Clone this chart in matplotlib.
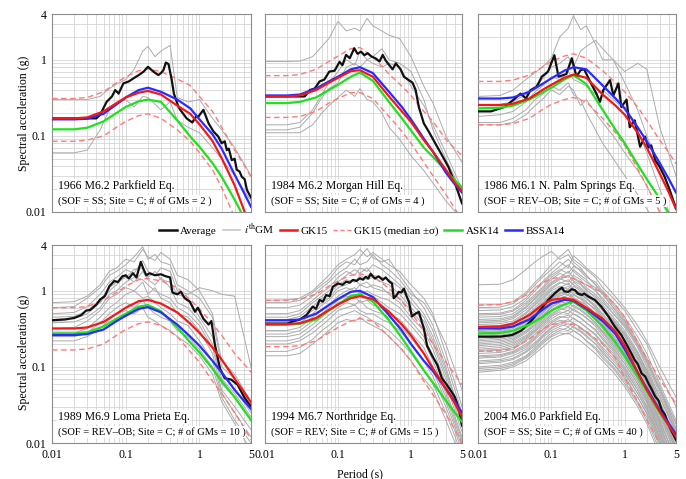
import matplotlib
matplotlib.use('Agg')
import matplotlib.pyplot as plt
from matplotlib.lines import Line2D

plt.rcParams['font.family'] = ['Liberation Serif', 'DejaVu Serif']
plt.rcParams['mathtext.fontset'] = 'stix'

# ---------------- data ----------------
T_MODEL = [0.01, 0.02, 0.03, 0.05, 0.075, 0.1, 0.15, 0.2, 0.3, 0.5, 0.75, 1, 1.5, 2, 3, 4, 5]
T_GM = [0.01, 0.02, 0.03, 0.045, 0.06, 0.075, 0.1, 0.13, 0.17, 0.2, 0.25, 0.3, 0.4, 0.5, 0.7, 1, 1.5, 2, 3, 5]

# Panel 1: 1966 Parkfield
p1_gk15 = [0.17, 0.17, 0.175, 0.21, 0.27, 0.32, 0.37, 0.39, 0.35, 0.25, 0.195, 0.142, 0.086, 0.051, 0.0224, 0.0107, 0.006]
p1_gk15_hi = [0.31, 0.31, 0.32, 0.38, 0.5, 0.6, 0.72, 0.76, 0.7, 0.56, 0.46, 0.33, 0.21, 0.13, 0.065, 0.042, 0.029]
p1_gk15_lo = [0.085, 0.085, 0.088, 0.1, 0.13, 0.155, 0.185, 0.195, 0.17, 0.12, 0.085, 0.06, 0.036, 0.021, 0.0085, 0.0045, 0.0028]
p1_ask14 = [0.122, 0.122, 0.128, 0.155, 0.2, 0.24, 0.285, 0.3, 0.28, 0.16, 0.098, 0.072, 0.044, 0.029, 0.0145, 0.0085, 0.0055]
p1_bssa14 = [0.165, 0.165, 0.168, 0.195, 0.26, 0.32, 0.4, 0.43, 0.38, 0.3, 0.23, 0.165, 0.105, 0.068, 0.031, 0.018, 0.0117]
p1_avg_T = [0.01, 0.04, 0.045, 0.055, 0.065, 0.072, 0.08, 0.093, 0.11, 0.127, 0.15, 0.175, 0.2, 0.237, 0.277, 0.3,
            0.324, 0.35, 0.38, 0.42, 0.45, 0.52, 0.55, 0.67, 0.8, 0.9, 0.97, 1.13, 1.33, 1.55, 1.8, 2.0, 2.2, 2.35,
            2.5, 2.74, 3.0, 3.2, 3.5, 3.75, 4.1, 4.4, 5.0]
p1_avg = [0.17, 0.17, 0.19, 0.28, 0.33, 0.40, 0.36, 0.49, 0.52, 0.57, 0.63, 0.70, 0.81, 0.70, 0.63, 0.67,
          0.73, 0.92, 0.88, 0.55, 0.36, 0.24, 0.22, 0.17, 0.15, 0.18, 0.18, 0.22, 0.146, 0.114, 0.098, 0.08, 0.085, 0.065,
          0.068, 0.048, 0.05, 0.036, 0.034, 0.029, 0.027, 0.0195, 0.0155]
p1_gms = [
    [0.30, 0.30, 0.30, 0.33, 0.42, 0.48, 0.55, 0.75, 1.3, 1.5, 1.1, 1.3, 1.55, 0.32, 0.28, 0.3, 0.17, 0.12, 0.07, 0.03],
    [0.06, 0.06, 0.065, 0.12, 0.22, 0.26, 0.3, 0.24, 0.33, 0.32, 0.26, 0.22, 0.28, 0.16, 0.13, 0.11, 0.07, 0.05, 0.03, 0.014],
]

# Panel 2: 1984 Morgan Hill
p2_gk15 = [0.33, 0.33, 0.34, 0.4, 0.5, 0.58, 0.71, 0.73, 0.6, 0.33, 0.21, 0.153, 0.088, 0.062, 0.036, 0.024, 0.019]
p2_gk15_hi = [0.62, 0.62, 0.64, 0.75, 0.95, 1.12, 1.4, 1.45, 1.1, 0.65, 0.45, 0.34, 0.21, 0.155, 0.09, 0.068, 0.055]
p2_gk15_lo = [0.175, 0.175, 0.18, 0.21, 0.27, 0.31, 0.37, 0.37, 0.31, 0.18, 0.115, 0.08, 0.045, 0.03, 0.017, 0.011, 0.008]
p2_ask14 = [0.27, 0.27, 0.28, 0.32, 0.4, 0.47, 0.6, 0.68, 0.53, 0.28, 0.17, 0.118, 0.07, 0.053, 0.035, 0.026, 0.021]
p2_bssa14 = [0.34, 0.34, 0.35, 0.42, 0.52, 0.6, 0.75, 0.8, 0.67, 0.38, 0.24, 0.165, 0.092, 0.062, 0.033, 0.023, 0.018]
p2_avg_T = [0.01, 0.035, 0.041, 0.048, 0.056, 0.065, 0.076, 0.09, 0.105, 0.115, 0.129, 0.145, 0.167, 0.185, 0.207,
            0.23, 0.254, 0.29, 0.33, 0.37, 0.41, 0.45, 0.5, 0.56, 0.62, 0.72, 0.8, 0.935, 1.05, 1.16, 1.28, 1.5,
            1.75, 2.15, 2.65, 3.26, 4.0, 5.0]
p2_avg = [0.33, 0.33, 0.40, 0.42, 0.52, 0.55, 0.70, 0.72, 0.94, 0.85, 1.16, 1.05, 1.42, 1.2, 1.28,
          1.15, 1.22, 1.1, 1.04, 0.95, 1.16, 0.98, 0.86, 0.75, 0.9, 0.75, 0.6, 0.54, 0.5, 0.40, 0.24, 0.146,
          0.114, 0.08, 0.056, 0.039, 0.024, 0.013]
p2_gms = [
    [0.95, 0.95, 0.96, 1.1, 1.5, 1.9, 3.2, 2.4, 2.6, 2.4, 3.5, 2.8, 2.4, 2.1, 1.9, 1.1, 0.45, 0.27, 0.1, 0.045],
    [0.14, 0.14, 0.15, 0.22, 0.35, 0.5, 0.7, 1.0, 0.85, 1.3, 1.0, 1.1, 1.4, 1.0, 0.9, 0.7, 0.3, 0.12, 0.05, 0.018],
    [0.11, 0.11, 0.11, 0.14, 0.2, 0.25, 0.32, 0.4, 0.33, 0.42, 0.3, 0.28, 0.2, 0.13, 0.09, 0.055, 0.035, 0.024, 0.014, 0.008],
    [0.12, 0.12, 0.13, 0.2, 0.32, 0.42, 0.5, 0.8, 0.9, 0.8, 1.0, 0.9, 0.8, 0.9, 0.8, 0.45, 0.25, 0.14, 0.06, 0.02],
]

# Panel 3: 1986 N. Palm Springs
p3_gk15 = [0.255, 0.255, 0.265, 0.31, 0.4, 0.47, 0.58, 0.64, 0.58, 0.35, 0.25, 0.19, 0.11, 0.07, 0.032, 0.018, 0.011]
p3_gk15_hi = [0.52, 0.52, 0.54, 0.63, 0.8, 0.95, 1.12, 1.2, 1.05, 0.72, 0.5, 0.38, 0.24, 0.16, 0.088, 0.06, 0.043]
p3_gk15_lo = [0.14, 0.14, 0.145, 0.17, 0.22, 0.26, 0.3, 0.32, 0.28, 0.17, 0.11, 0.075, 0.037, 0.022, 0.01, 0.0055, 0.0035]
p3_ask14 = [0.23, 0.235, 0.25, 0.3, 0.37, 0.43, 0.55, 0.63, 0.48, 0.22, 0.12, 0.08, 0.042, 0.027, 0.015, 0.0095, 0.0065]
p3_bssa14 = [0.31, 0.31, 0.32, 0.38, 0.48, 0.57, 0.72, 0.8, 0.75, 0.46, 0.31, 0.23, 0.13, 0.085, 0.044, 0.027, 0.018]
p3_avg_T = [0.01, 0.015, 0.023, 0.032, 0.038, 0.045, 0.052, 0.063, 0.074, 0.09, 0.11, 0.125, 0.16, 0.19, 0.22,
            0.25, 0.28, 0.33, 0.41, 0.46, 0.51, 0.63, 0.7, 0.82, 0.9, 1.06, 1.17, 1.37, 1.62, 1.89, 2.1, 2.3, 2.6,
            3.0, 3.5, 4.1, 5.0]
p3_avg = [0.21, 0.21, 0.24, 0.31, 0.36, 0.31, 0.4, 0.44, 0.6, 0.7, 1.15, 0.6, 0.65, 1.05, 0.6,
          0.73, 0.75, 0.54, 0.36, 0.28, 0.4, 0.54, 0.34, 0.49, 0.24, 0.30, 0.13, 0.16, 0.072, 0.098, 0.07, 0.075, 0.048,
          0.039, 0.029, 0.0195, 0.011]
p3_gms = [
    [0.33, 0.34, 0.4, 0.55, 0.68, 0.8, 1.05, 2.0, 2.6, 3.8, 2.5, 2.8, 1.6, 1.0, 1.0, 0.5, 0.22, 0.1, 0.04, 0.012],
    [0.25, 0.26, 0.28, 0.35, 0.45, 0.55, 0.8, 0.9, 1.1, 0.8, 1.3, 1.5, 1.8, 1.4, 1.0, 0.7, 0.9, 0.75, 0.13, 0.03],
    [0.18, 0.19, 0.21, 0.28, 0.38, 0.45, 0.6, 0.55, 0.7, 0.55, 0.5, 0.45, 0.35, 0.4, 0.3, 0.22, 0.12, 0.06, 0.02, 0.006],
    [0.15, 0.15, 0.17, 0.22, 0.3, 0.35, 0.45, 0.4, 0.5, 0.35, 0.3, 0.2, 0.12, 0.08, 0.05, 0.03, 0.017, 0.011, 0.006, 0.003],
    [0.14, 0.14, 0.15, 0.19, 0.25, 0.3, 0.4, 0.35, 0.45, 0.4, 0.25, 0.3, 0.2, 0.15, 0.1, 0.06, 0.035, 0.022, 0.01, 0.004],
]

# Panel 4: 1989 Loma Prieta
p4_gk15 = [0.32, 0.32, 0.33, 0.39, 0.5, 0.6, 0.73, 0.76, 0.68, 0.52, 0.37, 0.28, 0.18, 0.125, 0.07, 0.047, 0.034]
p4_gk15_hi = [0.6, 0.6, 0.62, 0.75, 0.95, 1.15, 1.4, 1.45, 1.35, 1.1, 0.76, 0.58, 0.37, 0.26, 0.15, 0.11, 0.085]
p4_gk15_lo = [0.167, 0.167, 0.172, 0.2, 0.26, 0.31, 0.37, 0.39, 0.35, 0.25, 0.158, 0.115, 0.065, 0.045, 0.025, 0.016, 0.011]
p4_ask14 = [0.275, 0.275, 0.285, 0.34, 0.43, 0.5, 0.62, 0.65, 0.54, 0.33, 0.21, 0.155, 0.095, 0.065, 0.04, 0.027, 0.02]
p4_bssa14 = [0.262, 0.262, 0.27, 0.31, 0.4, 0.47, 0.58, 0.61, 0.52, 0.36, 0.25, 0.19, 0.12, 0.085, 0.05, 0.036, 0.028]
p4_avg_T = [0.01, 0.015, 0.02, 0.025, 0.029, 0.033, 0.04, 0.045, 0.052, 0.06, 0.07, 0.078, 0.09, 0.1, 0.11,
            0.125, 0.14, 0.16, 0.175, 0.19, 0.21, 0.25, 0.3, 0.35, 0.4, 0.43, 0.5, 0.56, 0.63, 0.74, 0.87, 0.95,
            1.13, 1.33, 1.45, 1.63, 1.9, 2.2, 2.7, 3.3, 4.1, 5.0]
p4_avg = [0.41, 0.42, 0.44, 0.48, 0.55, 0.56, 0.66, 0.77, 0.85, 1.15, 1.35, 1.3, 1.55, 1.6, 1.45,
          1.7, 1.5, 2.4, 1.9, 1.6, 1.7, 1.6, 1.65, 1.55, 1.5, 0.95, 0.9, 0.97, 0.8, 0.72, 0.53, 0.6,
          0.43, 0.36, 0.4, 0.19, 0.095, 0.071, 0.068, 0.058, 0.039, 0.03]
p4_gms = [
    [0.70, 0.72, 0.85, 1.2, 1.8, 2.0, 2.6, 2.4, 3.5, 2.8, 2.5, 3.2, 2.6, 1.6, 1.4, 1.0, 0.5, 0.12, 0.08, 0.035],
    [0.60, 0.62, 0.8, 1.1, 1.6, 1.8, 2.2, 2.8, 3.8, 2.6, 3.0, 2.4, 2.2, 1.2, 1.0, 0.8, 0.45, 0.1, 0.07, 0.03],
    [0.50, 0.52, 0.62, 0.9, 1.3, 1.5, 1.9, 1.7, 2.5, 1.8, 1.6, 2.0, 1.8, 1.0, 0.9, 1.1, 1.0, 0.9, 0.85, 0.1],
    [0.45, 0.46, 0.55, 0.75, 1.1, 1.3, 1.5, 1.9, 2.0, 1.5, 1.8, 1.4, 1.3, 0.9, 0.8, 0.45, 0.25, 0.08, 0.05, 0.025],
    [0.42, 0.43, 0.5, 0.7, 1.0, 1.2, 1.6, 1.3, 1.8, 1.4, 1.2, 1.5, 1.1, 0.7, 0.6, 0.4, 0.2, 0.07, 0.045, 0.022],
    [0.38, 0.39, 0.45, 0.6, 0.9, 1.0, 1.3, 1.5, 1.4, 1.2, 1.0, 0.9, 0.8, 0.6, 0.5, 0.35, 0.18, 0.06, 0.04, 0.02],
    [0.32, 0.33, 0.4, 0.55, 0.8, 0.9, 1.1, 1.0, 1.3, 0.9, 1.1, 0.8, 0.7, 0.5, 0.45, 0.3, 0.15, 0.05, 0.03, 0.015],
    [0.28, 0.28, 0.32, 0.45, 0.6, 0.7, 0.9, 1.0, 0.8, 0.85, 0.7, 0.6, 0.5, 0.4, 0.35, 0.22, 0.12, 0.045, 0.025, 0.012],
    [0.25, 0.25, 0.28, 0.38, 0.5, 0.6, 0.7, 0.6, 0.75, 0.6, 0.5, 0.45, 0.4, 0.3, 0.25, 0.17, 0.1, 0.04, 0.02, 0.01],
    [0.22, 0.22, 0.25, 0.32, 0.42, 0.5, 0.55, 0.5, 0.6, 0.45, 0.4, 0.35, 0.3, 0.25, 0.2, 0.14, 0.08, 0.035, 0.018, 0.008],
]

# Panel 5: 1994 Northridge
p5_gk15 = [0.365, 0.365, 0.375, 0.44, 0.56, 0.66, 0.8, 0.85, 0.78, 0.53, 0.36, 0.26, 0.15, 0.095, 0.052, 0.033, 0.022]
p5_gk15_hi = [0.75, 0.75, 0.77, 0.9, 1.15, 1.35, 1.6, 1.67, 1.55, 1.08, 0.72, 0.52, 0.3, 0.2, 0.115, 0.08, 0.058]
p5_gk15_lo = [0.185, 0.185, 0.19, 0.22, 0.28, 0.33, 0.4, 0.43, 0.4, 0.25, 0.17, 0.12, 0.065, 0.043, 0.024, 0.015, 0.01]
p5_ask14 = [0.36, 0.36, 0.37, 0.42, 0.55, 0.66, 0.86, 0.9, 0.72, 0.41, 0.24, 0.16, 0.09, 0.062, 0.036, 0.025, 0.019]
p5_bssa14 = [0.41, 0.41, 0.42, 0.5, 0.65, 0.78, 0.97, 1.0, 0.83, 0.48, 0.3, 0.2, 0.12, 0.088, 0.052, 0.035, 0.025]
p5_avg_T = [0.01, 0.02, 0.025, 0.03, 0.037, 0.045, 0.05, 0.056, 0.062, 0.069, 0.077, 0.085, 0.1, 0.115, 0.13,
            0.145, 0.16, 0.18, 0.2, 0.22, 0.24, 0.26, 0.28, 0.32, 0.36, 0.41, 0.45, 0.5, 0.55, 0.58, 0.62, 0.68,
            0.74, 0.8, 0.87, 0.935, 1.03, 1.15, 1.28, 1.5, 1.66, 1.95, 2.3, 2.65, 3.1, 3.6, 4.0, 4.5, 5.0]
p5_avg = [0.37, 0.37, 0.40, 0.42, 0.48, 0.62, 0.58, 0.76, 0.72, 0.88, 0.85, 1.13, 1.25, 1.2, 1.32,
          1.28, 1.39, 1.35, 1.46, 1.4, 1.53, 1.45, 1.67, 1.45, 1.55, 1.39, 1.5, 1.33, 1.25, 0.80, 0.85, 0.97,
          0.95, 1.07, 0.85, 0.72, 0.46, 0.5, 0.53, 0.32, 0.19, 0.14, 0.106, 0.071, 0.058, 0.047, 0.04, 0.029, 0.017]
p5_gms = [
    [0.75, 0.76, 0.8, 1.0, 1.3, 1.6, 2.2, 2.6, 3.0, 3.5, 2.8, 3.2, 2.6, 2.2, 1.8, 1.2, 0.8, 0.5, 0.15, 0.03],
    [0.70, 0.70, 0.75, 0.95, 1.2, 1.4, 2.0, 2.4, 2.2, 2.8, 3.6, 2.7, 2.4, 2.6, 1.6, 1.0, 0.6, 0.35, 0.12, 0.025],
    [0.60, 0.60, 0.65, 0.85, 1.1, 1.3, 1.7, 2.0, 2.6, 2.2, 2.4, 3.0, 2.2, 1.9, 1.4, 0.9, 0.7, 0.45, 0.2, 0.05],
    [0.50, 0.50, 0.55, 0.75, 0.95, 1.1, 1.5, 1.8, 1.6, 2.0, 1.8, 2.2, 1.9, 1.6, 1.2, 0.8, 0.5, 0.3, 0.1, 0.02],
    [0.45, 0.45, 0.5, 0.7, 0.85, 1.0, 1.3, 1.6, 1.9, 1.7, 2.0, 1.6, 1.5, 1.4, 1.1, 0.7, 0.45, 0.25, 0.09, 0.02],
    [0.42, 0.42, 0.46, 0.62, 0.8, 0.9, 1.2, 1.4, 1.3, 1.6, 1.4, 1.5, 1.3, 1.2, 0.9, 0.6, 0.4, 0.22, 0.08, 0.018],
    [0.38, 0.38, 0.42, 0.55, 0.7, 0.8, 1.1, 1.2, 1.4, 1.2, 1.3, 1.1, 1.0, 0.95, 0.8, 0.55, 0.35, 0.2, 0.07, 0.016],
    [0.35, 0.35, 0.38, 0.5, 0.65, 0.75, 1.0, 1.1, 1.0, 1.2, 1.1, 1.2, 1.1, 0.9, 0.7, 0.45, 0.3, 0.17, 0.06, 0.014],
    [0.30, 0.30, 0.33, 0.45, 0.55, 0.65, 0.85, 1.0, 1.1, 0.9, 1.0, 0.9, 0.8, 0.75, 0.6, 0.4, 0.25, 0.14, 0.05, 0.012],
    [0.27, 0.27, 0.3, 0.4, 0.5, 0.6, 0.75, 0.85, 0.8, 0.95, 0.8, 0.85, 0.7, 0.6, 0.5, 0.35, 0.22, 0.12, 0.045, 0.011],
    [0.25, 0.25, 0.27, 0.36, 0.45, 0.55, 0.7, 0.75, 0.85, 0.7, 0.75, 0.65, 0.6, 0.5, 0.42, 0.28, 0.18, 0.1, 0.04, 0.01],
    [0.22, 0.22, 0.24, 0.32, 0.4, 0.48, 0.6, 0.7, 0.65, 0.75, 0.6, 0.55, 0.5, 0.45, 0.35, 0.24, 0.15, 0.09, 0.035, 0.009],
    [0.20, 0.20, 0.22, 0.28, 0.35, 0.42, 0.55, 0.6, 0.65, 0.55, 0.5, 0.5, 0.42, 0.38, 0.3, 0.2, 0.12, 0.075, 0.03, 0.008],
    [0.16, 0.16, 0.18, 0.23, 0.3, 0.35, 0.45, 0.5, 0.55, 0.5, 0.45, 0.4, 0.35, 0.3, 0.22, 0.15, 0.09, 0.06, 0.025, 0.007],
    [0.14, 0.14, 0.15, 0.2, 0.25, 0.3, 0.38, 0.42, 0.4, 0.45, 0.38, 0.35, 0.3, 0.25, 0.18, 0.12, 0.07, 0.05, 0.02, 0.006],
]

# Panel 6: 2004 Parkfield
p6_gk15 = [0.335, 0.34, 0.37, 0.48, 0.65, 0.76, 0.8, 0.76, 0.6, 0.43, 0.29, 0.19, 0.085, 0.05, 0.026, 0.017, 0.012]
p6_gk15_hi = [0.65, 0.66, 0.72, 0.92, 1.25, 1.45, 1.52, 1.45, 1.2, 0.95, 0.65, 0.45, 0.21, 0.13, 0.07, 0.045, 0.033]
p6_gk15_lo = [0.16, 0.162, 0.175, 0.23, 0.31, 0.36, 0.38, 0.36, 0.29, 0.2, 0.13, 0.072, 0.035, 0.02, 0.01, 0.0065, 0.0045]
p6_ask14 = [0.275, 0.28, 0.3, 0.36, 0.45, 0.55, 0.66, 0.72, 0.55, 0.34, 0.21, 0.14, 0.075, 0.048, 0.025, 0.017, 0.013]
p6_bssa14 = [0.32, 0.32, 0.34, 0.42, 0.56, 0.68, 0.76, 0.74, 0.58, 0.4, 0.27, 0.17, 0.085, 0.052, 0.027, 0.018, 0.013]
p6_avg_T = [0.01, 0.02, 0.029, 0.039, 0.054, 0.074, 0.091, 0.112, 0.13, 0.14, 0.15, 0.17, 0.19, 0.21, 0.23,
            0.26, 0.28, 0.32, 0.39, 0.48, 0.6, 0.73, 0.9, 1.1, 1.37, 1.5, 1.7, 1.9, 2.1, 2.3, 2.6, 2.9, 3.2,
            3.5, 3.9, 4.4, 5.0]
p6_avg = [0.25, 0.25, 0.262, 0.30, 0.41, 0.59, 0.76, 0.93, 1.05, 1.1, 0.98, 0.97, 1.05, 1.02, 0.92,
          0.88, 0.92, 0.84, 0.76, 0.62, 0.46, 0.34, 0.262, 0.185, 0.123, 0.11, 0.082, 0.075, 0.061, 0.052, 0.041, 0.036, 0.027,
          0.024, 0.018, 0.014, 0.011]
p6_gms = [
    [1.2, 1.22, 1.4, 1.9, 2.4, 2.8, 3.3, 2.6, 3.0, 2.4, 2.0, 1.6, 1.2, 0.9, 0.6, 0.38, 0.2, 0.12, 0.05, 0.015],
    [0.65, 0.66, 0.72, 0.95, 1.3, 1.6, 2.2, 2.8, 3.5, 2.6, 2.2, 1.9, 1.5, 1.1, 0.8, 0.55, 0.3, 0.2, 0.08, 0.03],
    [0.60, 0.61, 0.68, 0.9, 1.2, 1.5, 1.9, 2.4, 2.0, 2.9, 2.4, 2.0, 1.6, 1.3, 0.9, 0.6, 0.35, 0.22, 0.1, 0.04],
    [0.55, 0.56, 0.62, 0.8, 1.1, 1.3, 1.7, 2.1, 2.6, 2.2, 1.8, 1.5, 1.3, 1.0, 0.7, 0.45, 0.25, 0.15, 0.06, 0.02],
    [0.50, 0.51, 0.56, 0.75, 1.0, 1.25, 1.6, 1.9, 1.7, 2.1, 1.9, 1.6, 1.2, 0.95, 0.65, 0.42, 0.22, 0.13, 0.055, 0.018],
    [0.48, 0.49, 0.54, 0.7, 0.9, 1.1, 1.5, 1.8, 2.2, 1.8, 1.5, 1.3, 1.1, 0.9, 0.6, 0.4, 0.2, 0.12, 0.05, 0.016],
    [0.45, 0.46, 0.5, 0.66, 0.85, 1.05, 1.4, 1.7, 1.5, 1.9, 1.6, 1.4, 1.0, 0.8, 0.55, 0.36, 0.19, 0.11, 0.045, 0.014],
    [0.42, 0.43, 0.47, 0.62, 0.8, 1.0, 1.3, 1.5, 1.8, 1.5, 1.3, 1.2, 1.0, 0.75, 0.5, 0.33, 0.18, 0.1, 0.04, 0.013],
    [0.40, 0.41, 0.45, 0.6, 0.78, 0.95, 1.25, 1.45, 1.3, 1.6, 1.4, 1.1, 0.9, 0.7, 0.5, 0.35, 0.2, 0.12, 0.05, 0.018],
    [0.38, 0.39, 0.43, 0.56, 0.72, 0.9, 1.2, 1.4, 1.6, 1.35, 1.2, 1.0, 0.85, 0.65, 0.45, 0.3, 0.16, 0.09, 0.035, 0.011],
    [0.36, 0.37, 0.4, 0.52, 0.68, 0.85, 1.1, 1.3, 1.2, 1.45, 1.25, 1.05, 0.8, 0.6, 0.42, 0.28, 0.15, 0.085, 0.033, 0.01],
    [0.34, 0.35, 0.38, 0.5, 0.65, 0.8, 1.05, 1.25, 1.4, 1.2, 1.05, 0.9, 0.75, 0.6, 0.4, 0.26, 0.14, 0.08, 0.03, 0.009],
    [0.32, 0.33, 0.36, 0.47, 0.6, 0.75, 1.0, 1.15, 1.05, 1.3, 1.1, 0.95, 0.75, 0.55, 0.38, 0.25, 0.13, 0.075, 0.03, 0.009],
    [0.30, 0.31, 0.34, 0.44, 0.57, 0.7, 0.92, 1.1, 1.25, 1.05, 0.95, 0.8, 0.65, 0.5, 0.35, 0.23, 0.13, 0.08, 0.035, 0.012],
    [0.29, 0.3, 0.33, 0.42, 0.54, 0.68, 0.88, 1.05, 0.95, 1.15, 1.0, 0.85, 0.7, 0.55, 0.4, 0.27, 0.15, 0.09, 0.04, 0.014],
    [0.28, 0.29, 0.32, 0.4, 0.52, 0.65, 0.85, 1.0, 1.15, 1.0, 0.9, 0.78, 0.62, 0.48, 0.33, 0.22, 0.12, 0.07, 0.028, 0.008],
    [0.27, 0.28, 0.3, 0.39, 0.5, 0.62, 0.8, 0.95, 0.88, 1.05, 0.92, 0.8, 0.6, 0.45, 0.32, 0.2, 0.11, 0.065, 0.026, 0.008],
    [0.26, 0.27, 0.29, 0.37, 0.48, 0.6, 0.78, 0.92, 1.05, 0.9, 0.8, 0.7, 0.58, 0.44, 0.3, 0.2, 0.11, 0.065, 0.027, 0.009],
    [0.25, 0.26, 0.28, 0.36, 0.46, 0.57, 0.75, 0.88, 0.8, 0.95, 0.85, 0.72, 0.55, 0.42, 0.3, 0.19, 0.1, 0.06, 0.025, 0.008],
    [0.24, 0.25, 0.27, 0.34, 0.44, 0.55, 0.72, 0.85, 0.95, 0.82, 0.72, 0.65, 0.5, 0.4, 0.28, 0.18, 0.1, 0.06, 0.024, 0.007],
    [0.23, 0.24, 0.26, 0.33, 0.42, 0.52, 0.68, 0.8, 0.75, 0.88, 0.78, 0.65, 0.5, 0.38, 0.26, 0.17, 0.09, 0.055, 0.022, 0.007],
    [0.22, 0.23, 0.25, 0.32, 0.4, 0.5, 0.65, 0.78, 0.88, 0.78, 0.68, 0.58, 0.47, 0.36, 0.25, 0.16, 0.09, 0.05, 0.02, 0.006],
    [0.21, 0.22, 0.24, 0.3, 0.38, 0.47, 0.62, 0.72, 0.68, 0.8, 0.7, 0.6, 0.45, 0.35, 0.24, 0.15, 0.085, 0.05, 0.02, 0.006],
    [0.20, 0.21, 0.23, 0.29, 0.36, 0.45, 0.6, 0.7, 0.8, 0.7, 0.62, 0.55, 0.43, 0.33, 0.23, 0.15, 0.08, 0.048, 0.019, 0.006],
    [0.19, 0.2, 0.22, 0.28, 0.35, 0.43, 0.56, 0.66, 0.62, 0.72, 0.64, 0.55, 0.42, 0.32, 0.22, 0.14, 0.075, 0.045, 0.018, 0.005],
    [0.18, 0.19, 0.21, 0.26, 0.33, 0.41, 0.53, 0.63, 0.7, 0.62, 0.55, 0.48, 0.38, 0.3, 0.21, 0.13, 0.07, 0.042, 0.017, 0.005],
    [0.17, 0.18, 0.2, 0.25, 0.31, 0.39, 0.5, 0.58, 0.55, 0.65, 0.57, 0.5, 0.38, 0.29, 0.2, 0.13, 0.07, 0.04, 0.016, 0.005],
    [0.165, 0.17, 0.19, 0.24, 0.3, 0.37, 0.48, 0.56, 0.62, 0.55, 0.5, 0.44, 0.36, 0.28, 0.19, 0.12, 0.065, 0.038, 0.015, 0.0045],
    [0.16, 0.165, 0.18, 0.23, 0.29, 0.35, 0.46, 0.53, 0.5, 0.58, 0.5, 0.44, 0.34, 0.26, 0.18, 0.11, 0.06, 0.036, 0.014, 0.004],
    [0.15, 0.155, 0.17, 0.22, 0.27, 0.33, 0.43, 0.5, 0.55, 0.5, 0.44, 0.38, 0.31, 0.24, 0.17, 0.11, 0.06, 0.035, 0.014, 0.004],
    [0.14, 0.145, 0.16, 0.2, 0.25, 0.31, 0.4, 0.46, 0.44, 0.5, 0.44, 0.38, 0.3, 0.23, 0.16, 0.1, 0.055, 0.033, 0.013, 0.004],
    [0.135, 0.14, 0.155, 0.19, 0.24, 0.3, 0.38, 0.44, 0.48, 0.43, 0.38, 0.33, 0.27, 0.21, 0.15, 0.095, 0.05, 0.03, 0.012, 0.0035],
    [0.13, 0.135, 0.15, 0.18, 0.23, 0.28, 0.36, 0.41, 0.39, 0.44, 0.38, 0.33, 0.26, 0.2, 0.14, 0.09, 0.05, 0.03, 0.012, 0.0035],
    [0.12, 0.125, 0.14, 0.17, 0.21, 0.26, 0.33, 0.38, 0.42, 0.37, 0.33, 0.29, 0.23, 0.18, 0.13, 0.085, 0.045, 0.028, 0.011, 0.003],
    [0.115, 0.12, 0.13, 0.16, 0.2, 0.25, 0.32, 0.36, 0.34, 0.38, 0.33, 0.28, 0.22, 0.17, 0.12, 0.08, 0.045, 0.027, 0.011, 0.003],
    [0.11, 0.115, 0.125, 0.155, 0.19, 0.24, 0.3, 0.34, 0.37, 0.33, 0.29, 0.25, 0.2, 0.16, 0.11, 0.075, 0.04, 0.025, 0.01, 0.003],
    [0.10, 0.105, 0.115, 0.14, 0.18, 0.22, 0.28, 0.32, 0.3, 0.34, 0.3, 0.26, 0.2, 0.15, 0.11, 0.07, 0.04, 0.024, 0.01, 0.003],
    [0.095, 0.1, 0.11, 0.135, 0.17, 0.21, 0.26, 0.3, 0.33, 0.3, 0.26, 0.22, 0.18, 0.14, 0.1, 0.065, 0.035, 0.022, 0.009, 0.0025],
    [0.09, 0.095, 0.105, 0.13, 0.16, 0.2, 0.25, 0.28, 0.27, 0.3, 0.26, 0.22, 0.17, 0.13, 0.095, 0.06, 0.033, 0.02, 0.008, 0.0025],
    [0.085, 0.09, 0.1, 0.12, 0.15, 0.18, 0.23, 0.26, 0.28, 0.25, 0.22, 0.19, 0.15, 0.12, 0.085, 0.055, 0.03, 0.018, 0.007, 0.002],
]

EVENT_TITLES = ["1966 M6.2 Parkfield Eq.", "1984 M6.2 Morgan Hill Eq.", "1986 M6.1 N. Palm Springs Eq.",
                "1989 M6.9 Loma Prieta Eq.", "1994 M6.7 Northridge Eq.", "2004 M6.0 Parkfield Eq."]
EVENT_INFO = ["(SOF = SS; Site = C; # of GMs = 2 )", "(SOF = SS; Site = C; # of GMs = 4 )",
              "(SOF = REV\u2013OB; Site = C; # of GMs = 5 )", "(SOF = REV\u2013OB; Site = C; # of GMs = 10 )",
              "(SOF = REV; Site = C; # of GMs = 15 )", "(SOF = SS; Site = C; # of GMs = 40 )"]
X_TICKS = [0.01, 0.1, 1, 5]
X_TICKLABELS = ["0.01", "0.1", "1", "5"]
Y_TICKS = [0.01, 0.1, 1, 4]
Y_TICKLABELS = ["0.01", "0.1", "1", "4"]
LEGEND_LABELS = ["Average", r"$i^{\rm th}$GM", "GK15", "GK15 (median \u00b1\u03c3)", "ASK14", "BSSA14"]

panels = [
    (p1_gk15, p1_gk15_hi, p1_gk15_lo, p1_ask14, p1_bssa14, p1_avg_T, p1_avg, p1_gms),
    (p2_gk15, p2_gk15_hi, p2_gk15_lo, p2_ask14, p2_bssa14, p2_avg_T, p2_avg, p2_gms),
    (p3_gk15, p3_gk15_hi, p3_gk15_lo, p3_ask14, p3_bssa14, p3_avg_T, p3_avg, p3_gms),
    (p4_gk15, p4_gk15_hi, p4_gk15_lo, p4_ask14, p4_bssa14, p4_avg_T, p4_avg, p4_gms),
    (p5_gk15, p5_gk15_hi, p5_gk15_lo, p5_ask14, p5_bssa14, p5_avg_T, p5_avg, p5_gms),
    (p6_gk15, p6_gk15_hi, p6_gk15_lo, p6_ask14, p6_bssa14, p6_avg_T, p6_avg, p6_gms),
]

# ---------------- style ----------------
C_RED = '#f01818'
C_DASH = '#ff7a7a'
C_GREEN = '#1ee01e'
C_BLUE = '#2a2aff'
C_GRAY = '#ababab'
C_BLACK = '#111111'
FS = 8.5
FS_INFO = 7.6

W, H = 686, 479
fig = plt.figure(figsize=(W / 100, H / 100), dpi=100)
fig.patch.set_facecolor('white')

cols = [(52, 251), (265, 462), (478, 676)]
rows = [(14, 212), (245, 443)]

for i, (gk, hi, lo, ask, bssa, aT, av, gms) in enumerate(panels):
    r, c = divmod(i, 3)
    x0, x1 = cols[c]
    y0, y1 = rows[r]
    ax = fig.add_axes([x0 / W, 1 - y1 / H, (x1 - x0) / W, (y1 - y0) / H])
    ax.set_xscale('log')
    ax.set_yscale('log')
    for g in gms:
        ax.plot(T_GM, g, color=C_GRAY, lw=0.7, zorder=2)
    ax.plot(T_MODEL, hi, color=C_DASH, lw=1.0, ls=(0, (4, 2.5)), zorder=3)
    ax.plot(T_MODEL, lo, color=C_DASH, lw=1.0, ls=(0, (4, 2.5)), zorder=3)
    ax.plot(aT, av, color=C_BLACK, lw=1.6, zorder=4)
    ax.plot(T_MODEL, ask, color=C_GREEN, lw=1.6, zorder=5)
    ax.plot(T_MODEL, bssa, color=C_BLUE, lw=1.6, zorder=6)
    ax.plot(T_MODEL, gk, color=C_RED, lw=1.6, zorder=7)

    ax.set_xlim(0.01, 5)
    ax.set_ylim(0.01, 4)
    ax.grid(True, which='both', color='#d2d2d2', lw=0.55, zorder=0)
    ax.set_axisbelow(True)
    ax.tick_params(which='both', length=0, labelsize=FS, pad=4)
    ax.set_xticks(X_TICKS)
    ax.set_yticks(Y_TICKS)
    ax.minorticks_on()
    ax.tick_params(which='minor', length=0)
    if r == 1:
        ax.set_xticklabels(X_TICKLABELS)
    else:
        ax.set_xticklabels([])
    if c == 0:
        ax.set_yticklabels(Y_TICKLABELS)
    else:
        ax.set_yticklabels([])
    ax.xaxis.set_minor_formatter(matplotlib.ticker.NullFormatter())
    ax.yaxis.set_minor_formatter(matplotlib.ticker.NullFormatter())
    for sp in ax.spines.values():
        sp.set_color('#8c8c8c')
        sp.set_linewidth(0.8)

    bb = dict(facecolor='white', edgecolor='none', pad=0.6)
    ax.text(0.028, 0.132, EVENT_TITLES[i], transform=ax.transAxes, fontsize=FS,
            ha='left', va='center', zorder=10, bbox=bb)
    ax.text(0.028, 0.055, EVENT_INFO[i], transform=ax.transAxes, fontsize=FS_INFO,
            ha='left', va='center', zorder=10, bbox=bb)

# axis labels
fig.text(24 / W, 1 - 113 / H, "Spectral acceleration (g)", rotation=90, fontsize=FS, ha='center', va='center')
fig.text(24 / W, 1 - 352 / H, "Spectral acceleration (g)", rotation=90, fontsize=FS, ha='center', va='center')
fig.text(360 / W, 1 - 474 / H, "Period (s)", fontsize=FS, ha='center', va='center')

handles = [
    Line2D([], [], color=C_BLACK, lw=1.8),
    Line2D([], [], color='#c8c8c8', lw=1.2),
    Line2D([], [], color=C_RED, lw=1.8),
    Line2D([], [], color=C_DASH, lw=1.0, ls=(0, (3, 2))),
    Line2D([], [], color=C_GREEN, lw=1.8),
    Line2D([], [], color=C_BLUE, lw=1.8),
]
fig.legend(handles, LEGEND_LABELS, loc='center', bbox_to_anchor=(362 / W, 1 - 229 / H), ncol=6,
           frameon=False, fontsize=8, handlelength=1.6, columnspacing=0.5, handletextpad=0.3,
           borderaxespad=0, borderpad=0)

fig.savefig('out.png', dpi=100, facecolor='white')
